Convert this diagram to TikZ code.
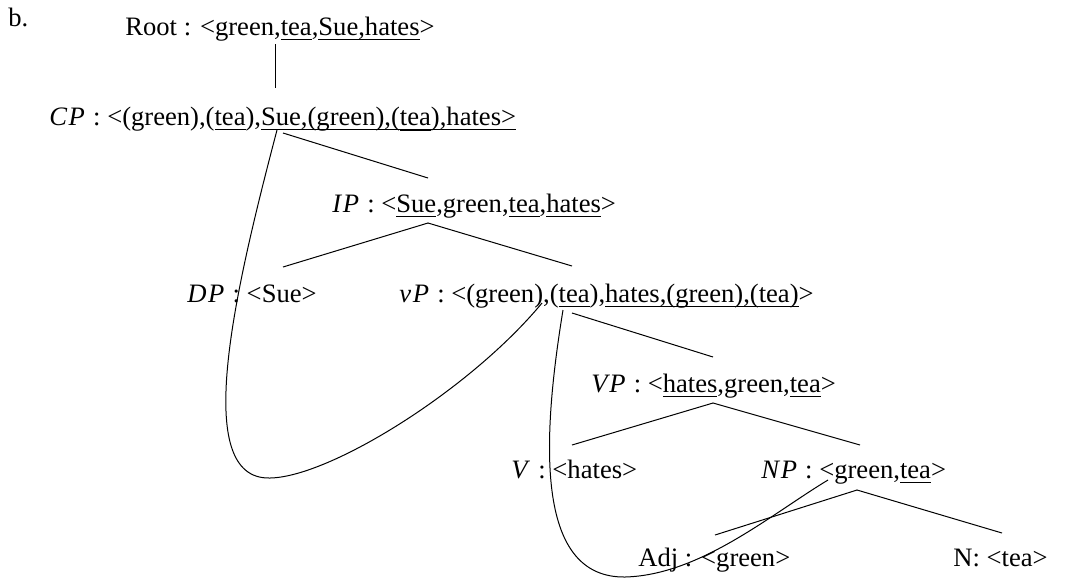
\documentclass[tikz,border=0pt]{standalone}
\usepackage{fontspec}
\setmainfont{Liberation Serif}
\usetikzlibrary{positioning}

% underline at a fixed depth below the baseline
\newcommand{\ul}[2][0pt]{\setbox0=\hbox{#2}\rlap{\rule[\dimexpr-2.3pt-#1\relax]{\wd0}{0.5pt}}\box0}
\newcommand{\cat}[1]{\textit{\addfontfeature{LetterSpace=6}#1}}

\begin{document}
\begin{tikzpicture}[
			x=0.5pt, y=-0.5pt,
			treenode/.style={
				anchor=base west,
				inner sep=0pt,
				font=\fontsize{13.3}{15}\selectfont
			},
			branch/.style={
				line width=0.5pt
			},
			movement/.style={
				line width=0.5pt
			}
			]
			\useasboundingbox (0,0) rectangle (1068,579);
			
			% Tree nodes
			\node[treenode] (tag) at (8,26) {b.};
			\node[treenode] (root) at (125,35) {Root : <green,\ul{tea},\ul{Sue,hates}>};
			\node[treenode] (cp) at (49,125) {\cat{CP} : <(green),(\ul{tea}),\ul{Sue,(green),(\ul[0.7pt]{tea}),hates>}};
			\node[treenode] (ip) at (332,212) {\cat{IP} : <\ul{Sue},green,\ul{tea},\ul{hates}>};
			\node[treenode] (dp) at (187,302) {\cat{DP} : <Sue>};
			\node[treenode] (vp) at (399,302) {\cat{vP} : <(green),(\ul{tea}),\ul{hates,(green),(tea)}>};
			\node[treenode] (bigvp) at (591,392) {\cat{VP} : <\ul{hates},green,\ul{tea}>};
			\node[treenode] (v) at (511,478) {\cat{V} : <hates>};
			\node[treenode] (np) at (761,478) {\cat{NP} : <green,\ul{tea}>};
			\node[treenode] (adj) at (638,566) {Adj : <green>};
			\node[treenode] (n) at (953,566) {N: <tea>};
			
			% Branch points
			\coordinate (root-b) at (275,44);
			\coordinate (cp-t) at (275,88);
			\coordinate (cp-b) at (283,133);
			\coordinate (ip-t) at (428,178);
			\coordinate (ip-b) at (428,223);
			\coordinate (dp-t) at (283,267);
			\coordinate (vp-t) at (572,266);
			\coordinate (vp-b) at (572,313);
			\coordinate (bigvp-t) at (713,357);
			\coordinate (bigvp-b) at (713,403);
			\coordinate (v-t) at (572,445);
			\coordinate (np-t) at (860,445);
			\coordinate (np-b) at (857,490);
			\coordinate (adj-t) at (715,535);
			\coordinate (n-t) at (1002,533);
			
			% Branches
			\draw[branch] (root-b) -- (cp-t);
			\draw[branch] (cp-b) -- (ip-t);
			\draw[branch] (dp-t) -- (ip-b) -- (vp-t);
			\draw[branch] (vp-b) -- (bigvp-t);
			\draw[branch] (v-t) -- (bigvp-b) -- (np-t);
			\draw[branch] (adj-t) -- (np-b) -- (n-t);
			
			% Movement lines
			\coordinate (cp-src) at (277,130);
			\coordinate (vp-dst) at (542,303);
			\coordinate (vp-src) at (563,310);
			\coordinate (np-dst) at (828,480);
			\draw[movement] (cp-src) .. controls (235,290) and (190,480) .. (270,478)
				.. controls (330,477) and (470,390) .. (vp-dst);
			\draw[movement] (vp-src) .. controls (540,450) and (538,578) .. (625,577)
				.. controls (700,575) and (770,515) .. (np-dst);
			
		\end{tikzpicture}
\end{document}
